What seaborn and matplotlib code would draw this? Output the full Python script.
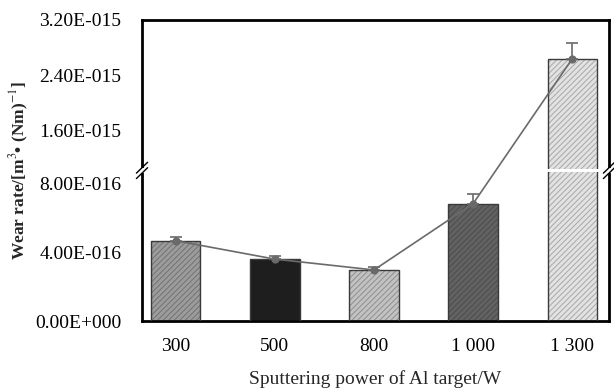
import numpy as np
import pandas as pd
import matplotlib
matplotlib.use("Agg")
import matplotlib.pyplot as plt
from matplotlib.patches import Rectangle
from matplotlib.ticker import FuncFormatter, FixedLocator
import seaborn as sns

# ---- data ----
powers = ["300", "500", "800", "1 000", "1 300"]
wear_rate = [4.67e-16, 3.60e-16, 2.97e-16, 6.83e-16, 2.64e-15]
wear_err = [0.22e-16, 0.18e-16, 0.17e-16, 0.58e-16, 0.22e-15]
bar_colors = ["#9c9c9c", "#1e1e1e", "#c2c2c2", "#626262", "#e2e2e2"]
hatch_colors = ["#727272", "#1e1e1e", "#8e8e8e", "#4c4c4c", "#a8a8a8"]
yticks = [0.0, 4e-16, 8e-16, 1.6e-15, 2.4e-15, 3.2e-15]

# ---- broken axis scale (piecewise linear) ----
low_top = 8.76e-16       # lower segment ends here
up_bot = 1.02e-15        # upper segment starts here
k1 = 68.5 / 4e-16
k2 = 55.0 / 8e-16
fb = low_top * k1

def fwd(v):
    v = np.asarray(v, dtype=float)
    return np.where(v <= low_top, v * k1, fb + (v - up_bot) * k2)

def inv(f):
    f = np.asarray(f, dtype=float)
    return np.where(f <= fb, f / k1, up_bot + (f - fb) / k2)

def fmt(v, pos):
    m, e = f"{v:.2E}".split("E")
    ei = int(e)
    sign = "-" if ei < 0 else "+"
    return f"{m}E{sign}{abs(ei):03d}"

sns.set_style("white")
plt.rcParams["font.family"] = ["Liberation Serif", "DejaVu Serif"]
plt.rcParams["mathtext.fontset"] = "stix"
plt.rcParams["hatch.linewidth"] = 0.7

fig = plt.figure(figsize=(6.14, 3.88), dpi=100)
ax = fig.add_axes([142 / 614, 1 - 321 / 388, (609 - 142) / 614, (321 - 20) / 388])
ax.set_yscale("function", functions=(fwd, inv))

df = pd.DataFrame({"power": powers, "rate": wear_rate})
sns.barplot(data=df, x="power", y="rate", hue="power", order=powers,
            palette=dict(zip(powers, bar_colors)), legend=False,
            width=0.5, saturation=1, errorbar=None, ax=ax, zorder=2)

bars = list(ax.patches)
for p, hc in zip(bars, hatch_colors):
    p.set_hatch("//////")
    p.set_edgecolor(hc)
    p.set_linewidth(0)
    outline = Rectangle(p.get_xy(), p.get_width(), p.get_height(),
                        facecolor="none", edgecolor="#3a3a3a", lw=1.0, zorder=3)
    ax.add_patch(outline)

# white gap across the bar crossing the break
br_lo = inv(fb - 1.6)
br_hi = inv(fb + 1.6)
for p, v in zip(bars, wear_rate):
    if v > up_bot:
        ax.add_patch(Rectangle((p.get_x() - 0.02, float(br_lo)), p.get_width() + 0.6,
                               float(br_hi - br_lo), facecolor="white",
                               edgecolor="none", zorder=4))

# connecting line with markers
sns.pointplot(data=df, x="power", y="rate", order=powers, color="#6a6a6a",
              markers="o", linestyles="-", errorbar=None, ax=ax,
              markersize=5, linewidth=1.2, zorder=5)
xpos = np.arange(len(powers))
ax.errorbar(xpos, wear_rate, yerr=[np.zeros(len(wear_err)), wear_err],
            fmt="none", ecolor="#6a6a6a", elinewidth=1.2, capsize=4, capthick=1.2,
            zorder=5)

ax.set_xlim(-0.34, 4.37)
ax.set_ylim(0, 3.2e-15)
ax.yaxis.set_major_locator(FixedLocator(yticks))
ax.yaxis.set_major_formatter(FuncFormatter(fmt))
ax.yaxis.set_minor_locator(FixedLocator([]))
ax.tick_params(axis="both", length=0, labelsize=14, colors="black")
ax.tick_params(axis="y", pad=15)
ax.tick_params(axis="x", pad=12)

for s in ax.spines.values():
    s.set_visible(True)
    s.set_color("black")
    s.set_linewidth(2.0)

ax.set_xlabel("Sputtering power of Al target/W", fontsize=14, labelpad=11)
ax.set_ylabel(r"Wear rate/[m$^{3}$• (Nm)$^{-1}$]", fontsize=12.5, fontweight="bold")
ax.yaxis.set_label_coords(-0.238, 0.5)

# break marks on both vertical spines
fbreak = float(fb / fwd(3.2e-15))
trans = ax.transAxes
for xs in (0.0, 1.0):
    ax.plot([xs, xs], [fbreak - 0.008, fbreak + 0.008], color="white", lw=3,
            transform=trans, clip_on=False, zorder=10, solid_capstyle="butt")
    for dy in (-0.009, 0.009):
        ax.plot([xs - 0.012, xs + 0.012], [fbreak + dy - 0.018, fbreak + dy + 0.018],
                color="black", lw=1.0, transform=trans, clip_on=False, zorder=11)

fig.savefig("out.png", dpi=100, facecolor="white")
